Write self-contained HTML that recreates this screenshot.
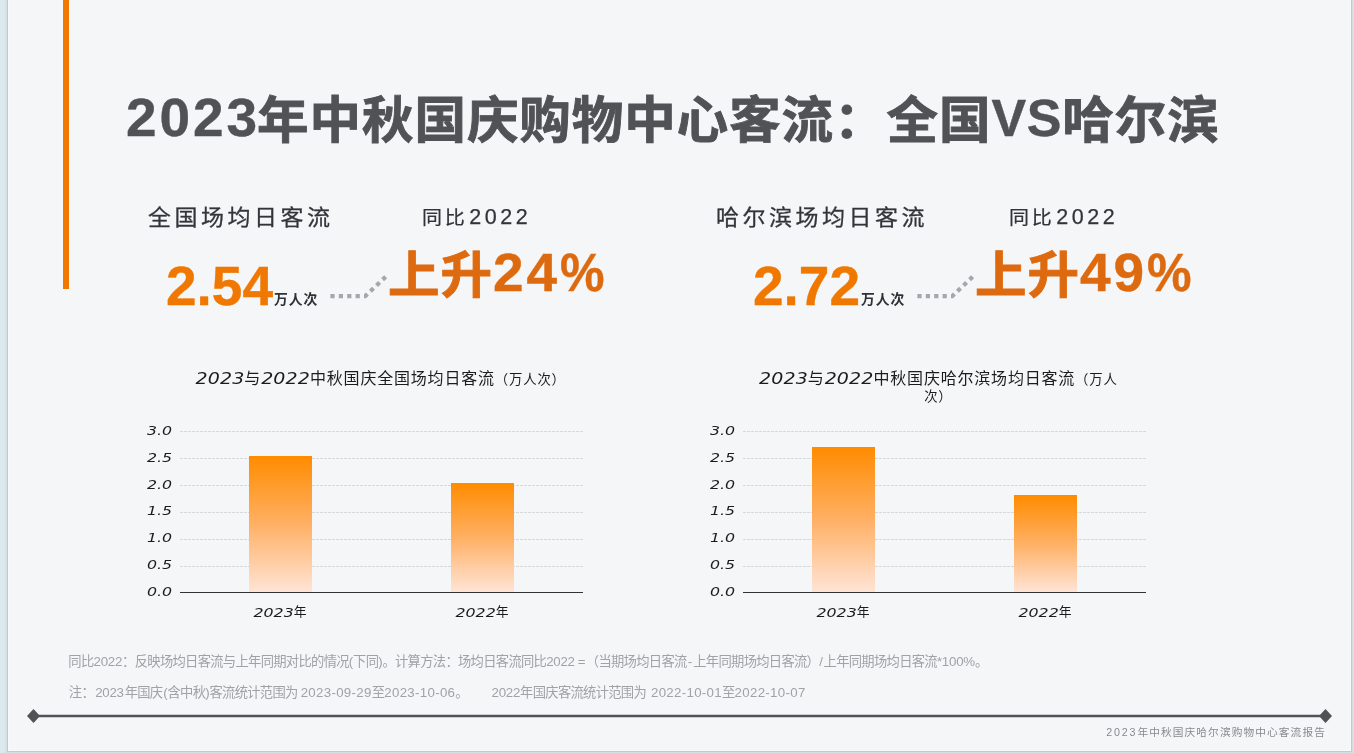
<!DOCTYPE html>
<html lang="zh-CN">
<head>
<meta charset="utf-8">
<title>2023年中秋国庆哈尔滨购物中心客流报告</title>
<style>
*{margin:0;padding:0;box-sizing:border-box}
html,body{width:1354px;height:753px;overflow:hidden}
body{background:#dce9ef;position:relative;font-family:"Liberation Sans","Noto Sans CJK SC",sans-serif;color:#333}
.abs{position:absolute;white-space:nowrap;line-height:1}
#card{position:absolute;left:8px;top:-20px;width:1343px;height:771px;background:#f4f6f8;
  box-shadow:0 0 0 1px #c0cbcf,0 0 0 2px #d3dfe2,0 0 0 3px #d6e3e6,0 0 0 4px #dae7ec,inset 0 0 0 1px #f8f9fb}
#bar{position:absolute;left:63px;top:0;width:6px;height:289px;background:#f07800}
#title{left:126px;top:93px;font-size:51.5px;font-weight:700;letter-spacing:.95px;color:#505256;-webkit-text-stroke:.9px #505256;transform:scaleY(.965);transform-origin:0 52%}
#title b{display:inline-block;transform:scaleY(1.02);-webkit-text-stroke:.4px #505256;font-size:55px;letter-spacing:2.9px;position:relative;top:-3px;margin-right:-2.9px}
#title b.vs{font-size:52px;letter-spacing:.75px;margin-right:0}
.lbl{font-size:23px;letter-spacing:3.5px;color:#33343a;-webkit-text-stroke:.3px #33343a;transform:scaleY(.93);transform-origin:0 88%}
.num{font-size:55px;font-weight:700;color:#f07800;-webkit-text-stroke:.4px #f07800}
.unit{font-size:13.8px;font-weight:700;letter-spacing:.9px;color:#2e3138}
.yoy{font-size:20px;letter-spacing:2.8px;color:#33343a;-webkit-text-stroke:.25px #33343a}
.yoy .cj{display:inline-block;transform:scaleY(.92);transform-origin:0 85%}
.yoy b{font-weight:400;font-size:21.5px;letter-spacing:3.6px;margin-left:1.6px}
.up{font-size:51.5px;font-weight:700;letter-spacing:.95px;color:#de6a10;-webkit-text-stroke:.9px #de6a10;transform:scaleY(.965);transform-origin:0 52%}
.up b{display:inline-block;transform:scaleY(1.02);-webkit-text-stroke:.4px #de6a10;font-size:55px;letter-spacing:2.9px;position:relative;top:-2.8px}
.up .pc{display:inline-block;transform:scaleX(.91);transform-origin:0 50%}
/* charts */
.ct{position:absolute;white-space:nowrap;font-size:16px;line-height:16px;letter-spacing:.8px;color:#1c1c1c;text-align:center}
.ct small{font-size:13.4px;letter-spacing:.8px}
.sc{font-family:"DejaVu Sans","Liberation Sans",sans-serif;font-style:italic;display:inline-block;transform:scaleY(.8);transform-origin:0 78%}
.ct .sc{font-size:19px;letter-spacing:.12px;line-height:20px;vertical-align:baseline}
.grid{position:absolute;height:1px;background:repeating-linear-gradient(to right,#d6d8da 0,#d6d8da 3px,transparent 3px,transparent 4px)}
.axis{position:absolute;height:1.4px;background:#333}
.col{position:absolute;background:linear-gradient(to bottom,#ff8c00 0%,#ffb064 50%,#ffe4d6 100%)}
.yl{position:absolute;width:60px;text-align:right;font-size:15.8px;line-height:16px;color:#1c1c1c;white-space:nowrap}
.xl{position:absolute;width:120px;text-align:center;font-size:12.8px;line-height:16px;color:#1c1c1c;white-space:nowrap}
.xl .sc,.yl .sc{font-size:15.8px;line-height:16px}
.xl .sc{position:relative;top:.8px}
.note{font-size:13.3px;letter-spacing:-.7px;color:#a0a2a6}
.note .d{letter-spacing:-.25px}
.note .t{letter-spacing:.3px}
.note span{display:inline-block}
.g3{width:23.6px}
#foot{font-size:10.7px;letter-spacing:1.1px;color:#88898d}
#foot b{font-weight:400;letter-spacing:1.85px}
</style>
</head>
<body>
<div id="card"></div>
<div id="bar"></div>
<h1 id="title" class="abs"><b>2023</b>年中秋国庆购物中心客流：全国<b class="vs">VS</b>哈尔滨</h1>

<div class="abs lbl" style="left:148px;top:206px">全国场均日客流</div>
<div class="abs num" style="left:166px;top:259.2px">2.54</div>
<div class="abs unit" style="left:274px;top:293.2px">万人次</div>
<div class="abs yoy" style="left:422px;top:207px"><span class="cj">同比</span><b>2022</b></div>
<div class="abs up" style="left:388px;top:248px">上升<b>24<span class="pc">%</span></b></div>
<svg class="abs" style="left:320px;top:265px" width="80" height="40" viewBox="320 265 80 40"><path d="M330.4 296.1H365.3L386 276.4" fill="none" stroke="#a5a7ab" stroke-width="4.2" stroke-dasharray="4.2 4.2"/></svg>

<div class="abs lbl" style="left:716px;top:206px">哈尔滨场均日客流</div>
<div class="abs num" style="left:753px;top:259.2px">2.72</div>
<div class="abs unit" style="left:861px;top:293.2px">万人次</div>
<div class="abs yoy" style="left:1009px;top:207px"><span class="cj">同比</span><b>2022</b></div>
<div class="abs up" style="left:975px;top:248px">上升<b>49<span class="pc">%</span></b></div>
<svg class="abs" style="left:907px;top:265px" width="80" height="40" viewBox="320 265 80 40"><path d="M330.4 296.1H365.3L386 276.4" fill="none" stroke="#a5a7ab" stroke-width="4.2" stroke-dasharray="4.2 4.2"/></svg>

<!-- chart 1 -->
<div id="c1">
<div class="ct" style="left:195.5px;top:367.4px"><span class="sc">2023</span>与<span class="sc">2022</span>中秋国庆全国场均日客流<small>（万人次）</small></div>
<div class="grid" style="left:180px;width:403px;top:431px"></div>
<div class="grid" style="left:180px;width:403px;top:458px"></div>
<div class="grid" style="left:180px;width:403px;top:485px"></div>
<div class="grid" style="left:180px;width:403px;top:512px"></div>
<div class="grid" style="left:180px;width:403px;top:539px"></div>
<div class="grid" style="left:180px;width:403px;top:566px"></div>
<div class="col" style="left:249px;width:63px;top:456px;height:136px"></div>
<div class="col" style="left:451px;width:63px;top:483px;height:109px"></div>
<div class="axis" style="left:180px;width:403px;top:591.7px"></div>
<div class="yl" style="left:112px;top:422px"><span class="sc">3.0</span></div>
<div class="yl" style="left:112px;top:449px"><span class="sc">2.5</span></div>
<div class="yl" style="left:112px;top:476px"><span class="sc">2.0</span></div>
<div class="yl" style="left:112px;top:502px"><span class="sc">1.5</span></div>
<div class="yl" style="left:112px;top:529px"><span class="sc">1.0</span></div>
<div class="yl" style="left:112px;top:556px"><span class="sc">0.5</span></div>
<div class="yl" style="left:112px;top:583px"><span class="sc">0.0</span></div>
<div class="xl" style="left:220px;top:603px"><span class="sc">2023</span>年</div>
<div class="xl" style="left:422px;top:603px"><span class="sc">2022</span>年</div>
</div>

<!-- chart 2 -->
<div id="c2">
<div class="ct" style="left:759px;top:367.4px"><span class="sc">2023</span>与<span class="sc">2022</span>中秋国庆哈尔滨场均日客流<small>（万人<br>次）</small></div>
<div class="grid" style="left:743px;width:403px;top:431px"></div>
<div class="grid" style="left:743px;width:403px;top:458px"></div>
<div class="grid" style="left:743px;width:403px;top:485px"></div>
<div class="grid" style="left:743px;width:403px;top:512px"></div>
<div class="grid" style="left:743px;width:403px;top:539px"></div>
<div class="grid" style="left:743px;width:403px;top:566px"></div>
<div class="col" style="left:812px;width:63px;top:447px;height:145px"></div>
<div class="col" style="left:1014px;width:63px;top:495px;height:97px"></div>
<div class="axis" style="left:743px;width:403px;top:591.7px"></div>
<div class="yl" style="left:675px;top:422px"><span class="sc">3.0</span></div>
<div class="yl" style="left:675px;top:449px"><span class="sc">2.5</span></div>
<div class="yl" style="left:675px;top:476px"><span class="sc">2.0</span></div>
<div class="yl" style="left:675px;top:502px"><span class="sc">1.5</span></div>
<div class="yl" style="left:675px;top:529px"><span class="sc">1.0</span></div>
<div class="yl" style="left:675px;top:556px"><span class="sc">0.5</span></div>
<div class="yl" style="left:675px;top:583px"><span class="sc">0.0</span></div>
<div class="xl" style="left:783px;top:603px"><span class="sc">2023</span>年</div>
<div class="xl" style="left:985px;top:603px"><span class="sc">2022</span>年</div>
</div>

<div class="abs note" style="left:68.3px;top:654.5px">同比<span class="d">2022</span>：反映场均日客流与上年同期对比的情况<span class="d">(</span>下同<span class="d">)</span>。计算方法：场均日客流同比<span class="d">2022</span><span class="d" style="margin:0 .5px 0 3px">=</span>（当期场均日客流<span class="d" style="margin:0 1.3px 0 1.2px">-</span>上年同期场均日客流）<span class="d" style="margin-right:.9px">/</span>上年同期场均日客流<span class="d">*100%</span>。</div>
<div class="abs note" style="left:68.8px;top:685.5px">注：<span class="d" style="margin:0 .9px 0 1.2px">2023</span>年国庆<span class="d" style="margin-left:.8px">(</span>含中秋<span class="d">)</span>客流统计范围为&nbsp;<span class="d t">2023-09-29</span>至<span class="d t">2023-10-06</span>。<span class="g3"></span><span class="d">2022</span>年国庆客流统计范围为&nbsp;<span class="d t" style="margin-left:1.9px">2022-10-01</span>至<span class="d t">2022-10-07</span></div>

<svg class="abs" style="left:20px;top:705px" width="1320" height="22" viewBox="20 705 1320 22">
<path d="M33 716H1326" stroke="#505256" stroke-width="2.6" fill="none"/>
<path d="M27 716L33.5 709L40 716L33.5 723Z" fill="#505256"/>
<path d="M1319 716L1325.5 709L1332 716L1325.5 723Z" fill="#505256"/>
</svg>
<div id="foot" class="abs" style="left:1106.2px;top:727px"><b>2023</b>年中秋国庆哈尔滨购物中心客流报告</div>
</body>
</html>
